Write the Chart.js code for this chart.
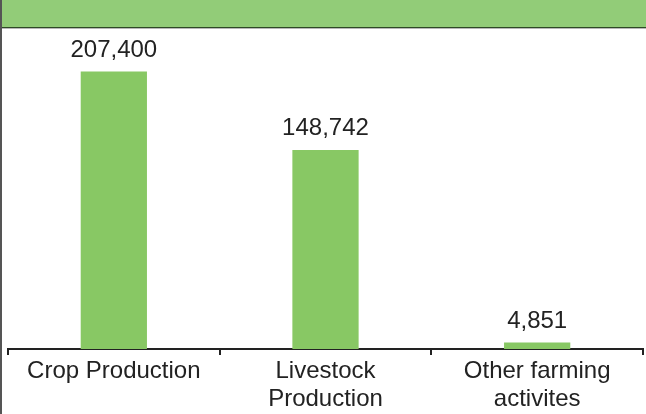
<!DOCTYPE html>
<html>
<head>
<meta charset="utf-8">
<script src="https://cdn.jsdelivr.net/npm/chart.js@4"></script>
<style>
  html, body { margin: 0; padding: 0; background: #fff; }
  #wrap { position: relative; width: 646px; height: 414px; overflow: hidden; }
  #band { position: absolute; left: 0; top: 0; width: 646px; height: 27px; background: #92cc78;
          border-bottom: 1px solid #2e4a26; box-shadow: 0 1px 0 #b8b8b8; }
  #edge { position: absolute; left: 0; top: 0; width: 2px; height: 414px; background: #555; }
  canvas { position: absolute; left: 0; top: 0; }
</style>
</head>
<body>
<div id="wrap">
  <canvas id="chart" width="646" height="414"></canvas>
  <div id="band"></div>
  <div id="edge"></div>
</div>
<script>
// categorias y valores
const categories = ['Crop Production', ['Livestock', 'Production'], ['Other farming', 'activites']];
const values = [207400, 148742, 4851];
const yMax = 240000;

const FONT = "'Liberation Sans', Arial, Helvetica, sans-serif";

// etiquetas de valor encima de cada barra
const valueLabels = {
  id: 'valueLabels',
  afterDatasetsDraw(chart) {
    const ctx = chart.ctx;
    const meta = chart.getDatasetMeta(0);
    ctx.save();
    ctx.font = '24px ' + FONT;
    ctx.fillStyle = '#222';
    ctx.textAlign = 'center';
    ctx.textBaseline = 'alphabetic';
    meta.data.forEach((bar, i) => {
      ctx.fillText(values[i].toLocaleString('en-US'), bar.x, bar.y - 15);
    });
    ctx.restore();
  }
};

new Chart(document.getElementById('chart'), {
  type: 'bar',
  data: {
    labels: categories,
    datasets: [{
      data: values,
      backgroundColor: '#88c864',
      borderWidth: 0,
      categoryPercentage: 1,
      barPercentage: 0.313
    }]
  },
  options: {
    responsive: false,
    animation: false,
    layout: { padding: { left: 8, right: 3, top: 28, bottom: 0 } },
    plugins: { legend: { display: false }, tooltip: { enabled: false } },
    scales: {
      x: {
        offset: true,
        afterFit(scale) { scale.height = 65; },
        border: { display: true, color: '#222', width: 2 },
        grid: {
          offset: true,
          drawOnChartArea: false,
          drawTicks: true,
          tickLength: 6,
          color: '#222',
          lineWidth: 2
        },
        ticks: {
          color: '#222',
          padding: 3,
          maxRotation: 0,
          font: { family: FONT, size: 24, lineHeight: 1.15 }
        }
      },
      y: { display: false, min: 0, max: yMax }
    }
  },
  plugins: [valueLabels]
});
</script>
</body>
</html>
